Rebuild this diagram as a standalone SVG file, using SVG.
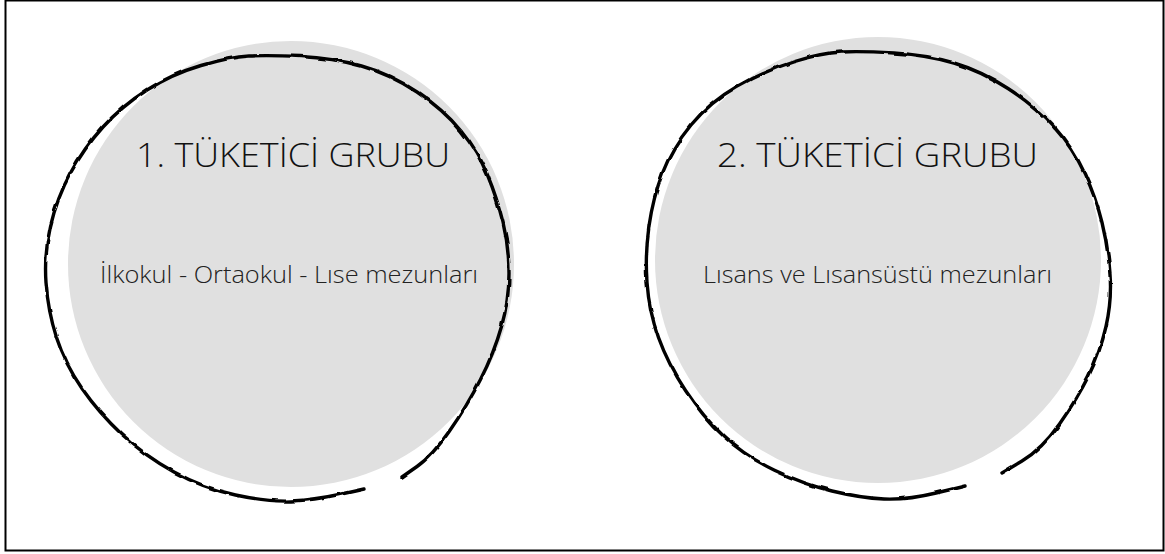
<svg xmlns="http://www.w3.org/2000/svg" width="1165" height="554" viewBox="0 0 1165 554">
<style>
.frame{fill:#fff;stroke:#000;stroke-width:2}
.disc{fill:#e0e0e0}
.ring{fill:none;stroke:#000;stroke-width:3.4;stroke-linecap:round;stroke-linejoin:round}
.title{font-family:"Open Sans","Liberation Sans",sans-serif;font-weight:300;font-size:33px;fill:#111}
.sub{font-family:"Open Sans","Liberation Sans",sans-serif;font-weight:300;font-size:24px;fill:#222}
</style>
<defs>
<filter id="wobble" x="-5%" y="-5%" width="110%" height="110%">
<feTurbulence type="fractalNoise" baseFrequency="0.06" numOctaves="2" seed="3"/>
<feDisplacementMap in="SourceGraphic" scale="3" xChannelSelector="R" yChannelSelector="G"/>
</filter>
</defs>
<rect class="frame" x="5.5" y="0.5" width="1158" height="550"/>
<g id="group1">
<circle class="disc" cx="291" cy="264" r="223"/>
<path class="ring" filter="url(#wobble)" d="M402,477 L417,466.5 Q432,456 449.5,431 Q467,406 480.5,379.5 Q494,353 501.5,326.5 Q509,300 509,273.5 Q509,247 503,222.5 Q497,198 487.5,175 Q478,152 461,131 Q444,110 417,92 Q390,74 361.5,66 Q333,58 300.5,56.5 Q268,55 249,56 Q230,57 201,65.5 Q172,74 147,90 Q122,106 103,127 Q84,148 70.5,173 Q57,198 50.5,226 Q44,254 46,282.5 Q48,311 56.5,337.5 Q65,364 82,388.5 Q99,413 122,434.5 Q145,456 174,472 Q203,488 235.5,495 Q268,502 291,501 Q314,500 339,494.5 L364,489"/>
<text class="title" x="136" y="167" textLength="314" lengthAdjust="spacingAndGlyphs">1. TÜKETİCİ GRUBU</text>
<text class="sub" x="100" y="283" textLength="378" lengthAdjust="spacingAndGlyphs">İlkokul - Ortaokul - Lıse mezunları</text>
</g>
<g id="group2">
<circle class="disc" cx="878" cy="260" r="223"/>
<path class="ring" filter="url(#wobble)" d="M1002,473 L1022,461 Q1042,449 1059.5,424 Q1077,399 1088.5,376 Q1100,353 1106,326.5 Q1112,300 1110,273.5 Q1108,247 1102,222.5 Q1096,198 1084.5,173 Q1073,148 1054,127 Q1035,106 1008,88.5 Q981,71 954,63 Q927,55 894,53 Q861,51 841.5,52 Q822,53 793,62 Q764,71 737,86.5 Q710,102 691,125 Q672,148 662.5,173 Q653,198 649,226 Q645,254 647,282.5 Q649,311 658.5,337.5 Q668,364 685.5,390.5 Q703,417 724,436.5 Q745,456 774,470 Q803,484 832,491 Q861,498 884,499 Q907,500 936,493 L965,486"/>
<text class="title" x="717" y="167" textLength="321" lengthAdjust="spacingAndGlyphs">2. TÜKETİCİ GRUBU</text>
<text class="sub" x="703" y="283" textLength="349" lengthAdjust="spacingAndGlyphs">Lısans ve Lısansüstü mezunları</text>
</g>
<g id="connectors"/>
</svg>
